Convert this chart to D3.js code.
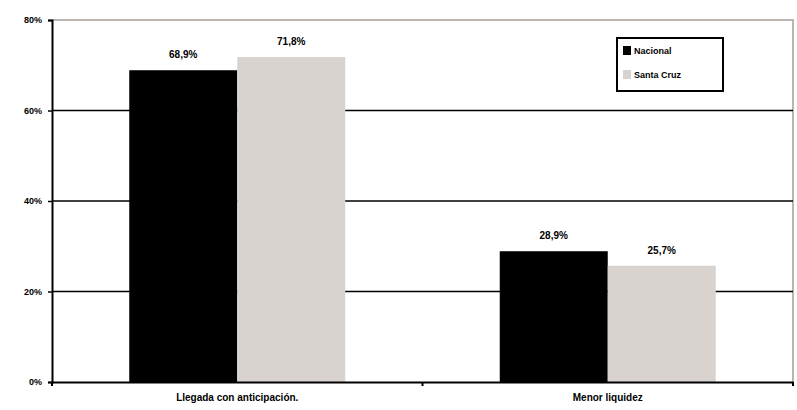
<!DOCTYPE html>
<html><head><meta charset="utf-8">
<script src="https://cdn.jsdelivr.net/npm/d3@7"></script>
<style>body{margin:0;background:#fff}svg{display:block;font-family:"Liberation Sans",Arial,sans-serif;font-weight:bold}</style>
</head><body><svg id="c" width="797" height="410"></svg>
<script>
const categories = ["Llegada con anticipación.", "Menor liquidez"];
const seriesNames = ["Nacional", "Santa Cruz"];
const nacional = [68.9, 28.9];
const santaCruz = [71.8, 25.7];
const yTicks = [0, 20, 40, 60, 80];
const colors = ["#000000", "#d9d3d0"];

const svg = d3.select("#c");
const L = 52, R = 793, T = 20, B = 382;
const x0 = d3.scaleBand().domain(categories).range([L, R]).paddingInner(0.417).paddingOuter(0.2085);
const x1 = d3.scaleBand().domain(seriesNames).range([0, x0.bandwidth()]);
const y = d3.scaleLinear().domain([0, 80]).range([B, T]);
const fmt = v => d3.format(".1f")(v).replace(".", ",") + "%";
const series = [nacional, santaCruz];

// plot border (top/right grey)
svg.append("path").attr("d", `M${L},${T}H${R}V${B}`).attr("fill", "none").attr("stroke", "#bcb6b3").attr("stroke-width", 2);
// gridlines
svg.append("g").selectAll("line").data(yTicks.filter(t => t > 0 && t < 80)).join("line")
  .attr("x1", L).attr("x2", R).attr("y1", d => y(d)).attr("y2", d => y(d)).attr("stroke", "#000").attr("stroke-width", 1.5);

// bars
categories.forEach((c, i) => {
  series.forEach((s, j) => {
    const bx = x0(c) + x1(seriesNames[j]);
    svg.append("rect").attr("x", bx).attr("y", y(s[i])).attr("width", x1.bandwidth()).attr("height", B - y(s[i])).attr("fill", colors[j]);
    svg.append("text").attr("x", bx + x1.bandwidth() / 2).attr("y", y(s[i]) - 12).attr("text-anchor", "middle").attr("font-size", 10).text(fmt(s[i]));
  });
});

// y axis
const ya = svg.append("g").attr("transform", `translate(${L},0)`).call(d3.axisLeft(y).tickValues(yTicks).tickSize(4).tickPadding(6).tickFormat(d => d + "%"));
ya.select(".domain").attr("stroke-width", 2);
ya.selectAll(".tick line").attr("stroke-width", 1.5);
ya.selectAll("text").attr("font-size", 9).attr("font-family", "Liberation Sans, Arial").attr("font-weight", "bold").attr("fill", "#000");

// x axis
const xa = svg.append("g").attr("transform", `translate(0,${B})`).call(d3.axisBottom(x0).tickSize(0).tickPadding(12));
xa.select(".domain").attr("stroke-width", 2);
xa.selectAll("text").attr("font-size", 10).attr("font-family", "Liberation Sans, Arial").attr("font-weight", "bold").attr("fill", "#000");
const edges = [L, x0(categories[1]) - x0.step() * x0.paddingInner() / 2, R];
svg.append("g").selectAll("line").data(edges).join("line").attr("x1", d => d).attr("x2", d => d).attr("y1", B).attr("y2", B + 4).attr("stroke", "#000").attr("stroke-width", 2);

// legend
const lg = svg.append("g").attr("transform", "translate(617,38)");
lg.append("rect").attr("x", 0).attr("y", 0).attr("width", 106).attr("height", 53).attr("fill", "#fff").attr("stroke", "#000").attr("stroke-width", 2);
seriesNames.forEach((n, j) => {
  lg.append("rect").attr("x", 6).attr("y", 8 + j * 24).attr("width", 8).attr("height", 9).attr("fill", colors[j]);
  lg.append("text").attr("x", 17).attr("y", 16 + j * 24).attr("font-size", 9).text(n);
});
</script></body></html>
